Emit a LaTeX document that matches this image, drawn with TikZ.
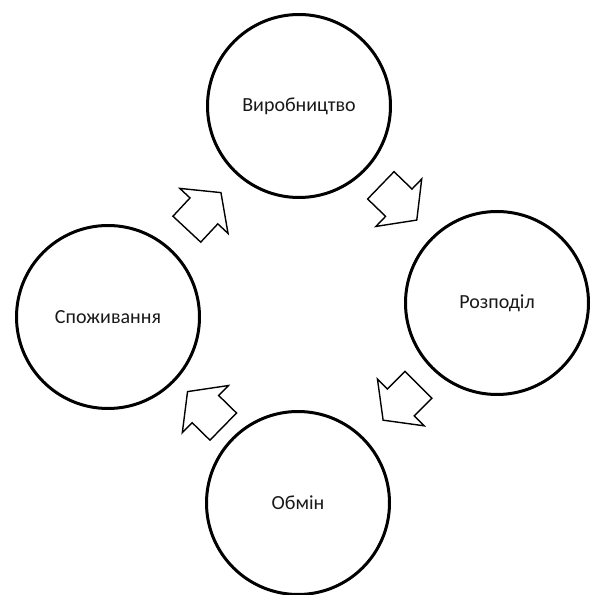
\documentclass[tikz,border=0pt]{standalone}
\usepackage{fontspec}
\setmainfont{Carlito}
\tikzset{
  stage/.style={circle, draw=black, line width=3pt, minimum size=183pt, inner sep=0pt, font=\fontsize{20}{24}\selectfont, text=black!90},
  blockarr/.style={draw=black, line width=1.4pt, fill=white, line join=miter}
}
\newcommand\blockarrow[3]{%
  \draw[blockarr, shift={(#1,#2)}, rotate=#3]
    (-25,19) -- (0,19) -- (0,33) -- (25,0) -- (0,-33) -- (0,-19) -- (-25,-19) -- cycle;}
\begin{document}
\begin{tikzpicture}[x=1pt,y=1pt]
\useasboundingbox (0,0) rectangle (591,595);
\fill[white] (0,0) rectangle (591,595);
\node[stage] (prod) at (299,489) {Виробництво};
\node[stage] (dist) at (497,292) {Розподіл};
\node[stage] (exch) at (298,92) {Обмін};
\node[stage] (cons) at (108,278) {Споживання};
\blockarrow{203.9}{384.1}{47}
\blockarrow{398.8}{392.3}{-44}
\blockarrow{400.8}{192.5}{-135}
\blockarrow{205.4}{185.9}{135.6}
\end{tikzpicture}
\end{document}
